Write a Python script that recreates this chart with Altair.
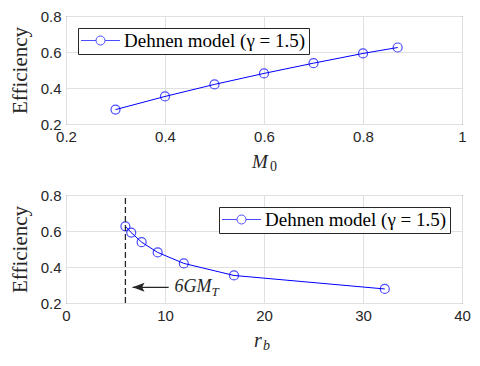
import altair as alt
import pandas as pd

# ---- data ----
m0 = [0.3, 0.4, 0.5, 0.6, 0.7, 0.8, 0.87]
eff_top = [0.280, 0.353, 0.420, 0.481, 0.538, 0.592, 0.625]
rb = [32.2, 16.97, 11.9, 9.26, 7.64, 6.59, 6.0]
eff_bot = [0.278, 0.353, 0.420, 0.481, 0.538, 0.591, 0.626]
series_name = "Dehnen model (γ = 1.5)"

x_top_ticks = [0.2, 0.4, 0.6, 0.8, 1.0]
x_bot_ticks = [0, 10, 20, 30, 40]
y_ticks = [0.2, 0.4, 0.6, 0.8]

vline_x = [6.0]
vline_y = [0.2, 0.8]
arrow_tip = [6.72]
arrow_tail = [10.37]
arrow_y = [0.287]
annot_x = [10.96]
annot_main = ["6GM"]
annot_sub = ["T"]

ylabel = "Efficiency"
xlabel_top = ["M", "0"]
xlabel_bot = ["r", "b"]

BLUE = "#0000ff"
DARK = "#262626"
W, H = 396, 108
SERIF = "Liberation Serif"
SANS = "Liberation Sans"

legend_path = ("M-3.9,0L-0.9,0M0.9,0L3.9,0"
               "M0.9,0A0.9,0.9,0,1,1,-0.9,0A0.9,0.9,0,1,1,0.9,0")
arrow_path = "M0,0L1,-0.375L0.8,0L1,0.375Z"


def axis_common(**kw):
    return dict(grid=True, gridColor="#e0e0e0", gridWidth=1, ticks=False,
                domain=False, labelFont=SANS, labelFontSize=15,
                labelColor=DARK, labelPadding=5, **kw)


def make_encodings(xdomain, xticks, xfmt):
    xenc = alt.X("x:Q", scale=alt.Scale(domain=xdomain, nice=False, zero=False),
                 axis=alt.Axis(values=xticks, format=xfmt, title=None,
                               labelFlush=False, **axis_common()))
    yenc = alt.Y("y:Q", scale=alt.Scale(domain=[0.2, 0.8], nice=False, zero=False),
                 axis=alt.Axis(values=y_ticks, format=".1f", title=ylabel,
                               titleFont=SERIF, titleFontSize=21,
                               titleFontWeight="normal", titleColor=DARK,
                               titlePadding=10, **axis_common()))
    return xenc, yenc


def panel(xs, ys, xenc, yenc, legend_orient, tparams):
    df = pd.DataFrame({"x": xs, "y": ys, "series": [series_name] * len(xs)})
    base = alt.Chart(df)
    line = base.mark_line(color=BLUE, strokeWidth=1).encode(x=xenc, y=yenc)
    pts = base.mark_point(shape="circle", filled=False, size=81,
                          strokeWidth=1.2).encode(
        x=xenc, y=yenc,
        color=alt.Color("series:N",
                        scale=alt.Scale(domain=[series_name], range=[BLUE]),
                        legend=alt.Legend(
                            title=None, orient=legend_orient, offset=12,
                            strokeColor=DARK, fillColor="white", padding=3,
                            cornerRadius=0, labelFont=SERIF, labelFontSize=19,
                            labelColor="black", labelLimit=400,
                            symbolType=legend_path,
                            symbolSize=100, symbolStrokeWidth=1,
                            symbolStrokeColor=BLUE, symbolFillColor="white",
                            symbolOffset=10, labelOffset=14)))
    main, sub, mx, my, sx, sy, sstyle, mfs = tparams
    tmain = alt.Chart(pd.DataFrame({"t": [main]})).mark_text(
        font=SERIF, fontSize=mfs, fontStyle="italic", color=DARK,
        align="left", baseline="alphabetic").encode(
        text="t:N", x=alt.value(mx), y=alt.value(my))
    tsub = alt.Chart(pd.DataFrame({"t": [sub]})).mark_text(
        font=SERIF, fontSize=14, fontStyle=sstyle, color=DARK,
        align="left", baseline="alphabetic").encode(
        text="t:N", x=alt.value(sx), y=alt.value(sy))
    return [line, pts], [tmain, tsub]


xt, yt = make_encodings([0.2, 1.0], x_top_ticks, "~g")
top_data, top_titles = panel(m0, eff_top, xt, yt, "top-left",
                             [xlabel_top[0], xlabel_top[1], W / 2 - 12, H + 44,
                              W / 2 + 6, H + 47, "normal", 19])
top = alt.layer(*(top_data + top_titles)).properties(width=W, height=H)

xb, yb = make_encodings([0, 40], x_bot_ticks, "d")
bot_data, bot_titles = panel(rb, eff_bot, xb, yb, "top-right",
                             [xlabel_bot[0], xlabel_bot[1], W / 2 - 10, H + 44,
                              W / 2 - 1, H + 47, "italic", 20])

vdf = pd.DataFrame({"x": vline_x * 2, "y": vline_y})
vline = alt.Chart(vdf).mark_line(color=DARK, strokeWidth=1.3,
                                 strokeDash=[6, 3]).encode(x=xb, y=yb)

adf = pd.DataFrame({"x": arrow_tip, "x2": arrow_tail, "y": arrow_y})
arule = alt.Chart(adf).mark_rule(color=DARK, strokeWidth=1.2).encode(
    x=xb, x2="x2:Q", y=yb)
ahead = alt.Chart(adf).mark_point(shape=arrow_path, size=576, filled=True,
                                  color=DARK, opacity=1).encode(x=xb, y=yb)

tdf = pd.DataFrame({"x": annot_x, "y": arrow_y, "t": annot_main, "s": annot_sub})
amain = alt.Chart(tdf).mark_text(font=SERIF, fontSize=18, fontStyle="italic",
                                 color=DARK, align="left", baseline="middle").encode(
    x=xb, y=yb, text="t:N")
asub = alt.Chart(tdf).mark_text(font=SERIF, fontSize=13, fontStyle="italic",
                                color=DARK, align="left", baseline="middle",
                                dx=37, dy=5).encode(
    x=xb, y=yb, text="s:N")

bottom = alt.layer(*(bot_data + [vline, arule, ahead, amain, asub] + bot_titles)
                   ).properties(width=W, height=H)

chart = alt.vconcat(top, bottom, spacing=12).resolve_legend(
    color="independent").resolve_scale(color="independent").properties(
    padding={"left": 0, "top": 0, "right": 0, "bottom": 0}
).configure_view(stroke=DARK, strokeWidth=1)

chart.save("out.html", embed_options={"renderer": "svg", "actions": False})
